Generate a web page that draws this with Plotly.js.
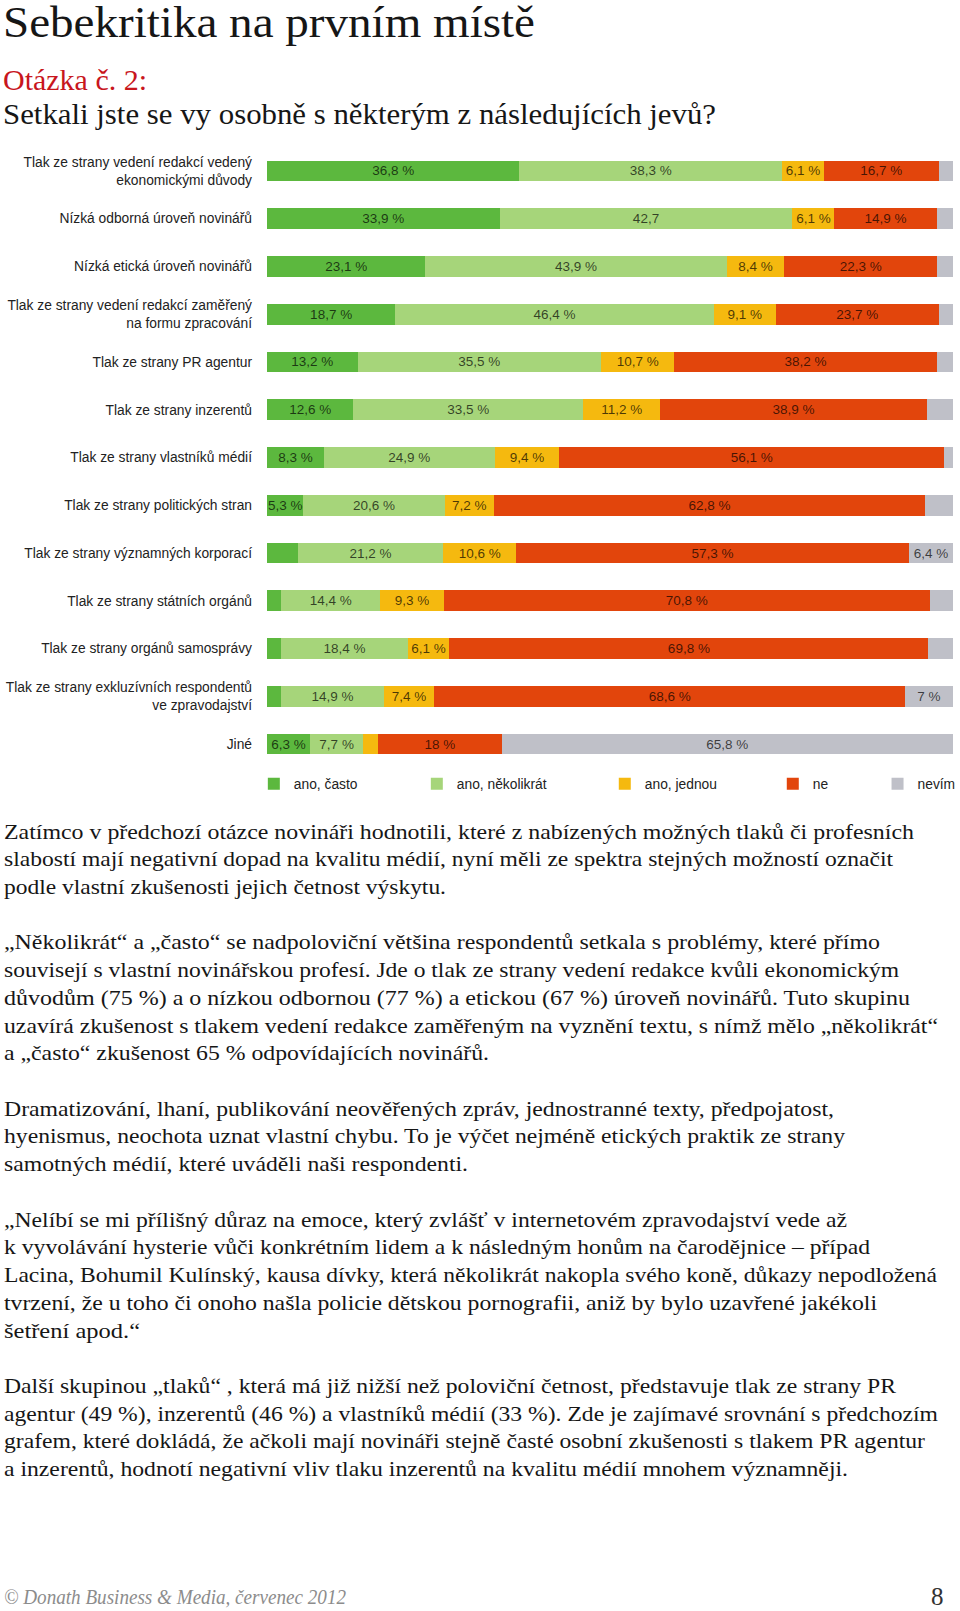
<!DOCTYPE html>
<html lang="cs"><head><meta charset="utf-8">
<script src="https://cdn.plot.ly/plotly-3.0.1.min.js"></script>
<style>
html,body{margin:0;padding:0;background:#fff;}
body{width:960px;height:1611px;position:relative;overflow:hidden;font-family:"Liberation Serif","Times New Roman",serif;color:#161616;}
.ln{position:absolute;white-space:nowrap;transform-origin:0 0;}
#chart{position:absolute;left:0;top:140px;width:960px;height:680px;}
</style></head><body>
<div id="chart"></div>
<script>
// ---------------- chart data ----------------
const categories = [
  "Tlak ze strany vedení redakcí vedený<br>ekonomickými důvody",
  "Nízká odborná úroveň novinářů",
  "Nízká etická úroveň novinářů",
  "Tlak ze strany vedení redakcí zaměřený<br>na formu zpracování",
  "Tlak ze strany PR agentur",
  "Tlak ze strany inzerentů",
  "Tlak ze strany vlastníků médií",
  "Tlak ze strany politických stran",
  "Tlak ze strany významných korporací",
  "Tlak ze strany státních orgánů",
  "Tlak ze strany orgánů samosprávy",
  "Tlak ze strany exkluzívních respondentů<br>ve zpravodajství",
  "Jiné"
];
const seriesNames = ["ano, často", "ano, několikrát", "ano, jednou", "ne", "nevím"];

const anoCasto      = [36.8, 33.9, 23.1, 18.7, 13.2, 12.6, 8.3, 5.3, 4.5, 2.1, 2.1, 2.1, 6.3];
const anoNekolikrat = [38.3, 42.7, 43.9, 46.4, 35.5, 33.5, 24.9, 20.6, 21.2, 14.4, 18.4, 14.9, 7.7];
const anoJednou     = [6.1, 6.1, 8.4, 9.1, 10.7, 11.2, 9.4, 7.2, 10.6, 9.3, 6.1, 7.4, 2.2];
const ne            = [16.7, 14.9, 22.3, 23.7, 38.2, 38.9, 56.1, 62.8, 57.3, 70.8, 69.8, 68.6, 18];
const nevim         = [2.1, 2.4, 2.3, 2.1, 2.4, 3.8, 1.3, 4.1, 6.4, 3.4, 3.6, 7, 65.8];

const lblCasto      = ["36,8 %","33,9 %","23,1 %","18,7 %","13,2 %","12,6 %","8,3 %","5,3 %","","","","","6,3 %"];
const lblNekolikrat = ["38,3 %","42,7","43,9 %","46,4 %","35,5 %","33,5 %","24,9 %","20,6 %","21,2 %","14,4 %","18,4 %","14,9 %","7,7 %"];
const lblJednou     = ["6,1 %","6,1 %","8,4 %","9,1 %","10,7 %","11,2 %","9,4 %","7,2 %","10,6 %","9,3 %","6,1 %","7,4 %",""];
const lblNe         = ["16,7 %","14,9 %","22,3 %","23,7 %","38,2 %","38,9 %","56,1 %","62,8 %","57,3 %","70,8 %","69,8 %","68,6 %","18 %"];
const lblNevim      = ["","","","","","","","","6,4 %","","","7 %","65,8 %"];

// ---------------- page text ----------------
const headLines = [
  {t:"Sebekritika na prvním místě", b:38, r:535, s:44},
  {t:"Otázka č. 2:", b:90, r:147, s:29, c:"#c8161d"},
  {t:"Setkali jste se vy osobně s některým z následujících jevů?", b:124, r:716, s:30}
];
// null = empty line between paragraphs
const bodyLines = [
  ["Zatímco v předchozí otázce novináři hodnotili, které z nabízených možných tlaků či profesních", 914],
  ["slabostí mají negativní dopad na kvalitu médií, nyní měli ze spektra stejných možností označit", 893],
  ["podle vlastní zkušenosti jejich četnost výskytu.", 446],
  null,
  ["„Několikrát“ a „často“ se nadpoloviční většina respondentů setkala s problémy, které přímo", 880],
  ["souvisejí s vlastní novinářskou profesí. Jde o tlak ze strany vedení redakce kvůli ekonomickým", 899],
  ["důvodům (75 %) a o nízkou odbornou (77 %) a etickou (67 %) úroveň novinářů. Tuto skupinu", 910],
  ["uzavírá zkušenost s tlakem vedení redakce zaměřeným na vyznění textu, s nímž mělo „několikrát“", 938],
  ["a „často“ zkušenost 65 % odpovídajících novinářů.", 489],
  null,
  ["Dramatizování, lhaní, publikování neověřených zpráv, jednostranné texty, předpojatost,", 834],
  ["hyenismus, neochota uznat vlastní chybu. To je výčet nejméně etických praktik ze strany", 845],
  ["samotných médií, které uváděli naši respondenti.", 468],
  null,
  ["„Nelíbí se mi přílišný důraz na emoce, který zvlášť v internetovém zpravodajství vede až", 847],
  ["k vyvolávání hysterie vůči konkrétním lidem a k následným honům na čarodějnice – případ", 870],
  ["Lacina, Bohumil Kulínský, kausa dívky, která několikrát nakopla svého koně, důkazy nepodložená", 937],
  ["tvrzení, že u toho či onoho našla policie dětskou pornografii, aniž by bylo uzavřené jakékoli", 877],
  ["šetření apod.“", 140],
  null,
  ["Další skupinou „tlaků“ , která má již nižší než poloviční četnost, představuje tlak ze strany PR", 896],
  ["agentur (49 %), inzerentů (46 %) a vlastníků médií (33 %). Zde je zajímavé srovnání s předchozím", 938],
  ["grafem, které dokládá, že ačkoli mají novináři stejně časté osobní zkušenosti s tlakem PR agentur", 925],
  ["a inzerentů, hodnotí negativní vliv tlaku inzerentů na kvalitu médií mnohem významněji.", 848]
];

function addLine(txt, base, left, right, size, opts) {
  opts = opts || {};
  const d = document.createElement('div');
  d.className = 'ln';
  d.textContent = txt;
  d.style.fontSize = size + 'px';
  d.style.lineHeight = size + 'px';
  d.style.top = (base - 0.8375 * size) + 'px';
  d.style.left = left + 'px';
  if (opts.c) d.style.color = opts.c;
  if (opts.italic) d.style.fontStyle = 'italic';
  document.body.appendChild(d);
  if (right) {
    const w = d.getBoundingClientRect().width;
    d.style.transform = 'scaleX(' + ((right - left) / w).toFixed(4) + ')';
  }
}
headLines.forEach(h => addLine(h.t, h.b, 3, h.r, h.s, {c: h.c}));
bodyLines.forEach((l, i) => { if (l) addLine(l[0], 839 + i * 27.72, 4, l[1], 22); });
addLine("© Donath Business & Media, červenec 2012", 1604, 4, 346, 22, {italic: true, c: "#8c8c8c"});
addLine("8", 1605, 931, null, 25, {c: "#333"});

// ---------------- chart ----------------
const FONT = '"Liberation Sans", Arial, sans-serif';
const barColors = ["#5cb83e", "#a6d57a", "#f5b90f", "#e2450c", "#bfc0c8"];
const values = [anoCasto, anoNekolikrat, anoJednou, ne, nevim];
const labels = [lblCasto, lblNekolikrat, lblJednou, lblNe, lblNevim];
const legendIds = ["legend", "legend2", "legend3", "legend4", "legend5"];
const legendX = [-0.0192, 0.2184, 0.4924, 0.7373, 0.8900];

const traces = values.map((v, k) => ({
  type: 'bar', orientation: 'h', name: seriesNames[k],
  x: v, y: categories, text: labels[k],
  textposition: 'inside', insidetextanchor: 'middle', textangle: 0,
  constraintext: 'none', cliponaxis: false,
  textfont: {family: FONT, size: 13.5, color: 'rgba(0,0,0,0.7)'},
  marker: {color: barColors[k], line: {width: 0}},
  showlegend: true, legend: legendIds[k], hoverinfo: 'skip'
}));

const layout = {
  width: 960, height: 680,
  margin: {l: 267, r: 7, t: 7.4, b: 51.8, autoexpand: false},
  paper_bgcolor: 'rgba(0,0,0,0)', plot_bgcolor: 'rgba(0,0,0,0)',
  barmode: 'stack', bargap: 0.567,
  font: {family: FONT, size: 13.5, color: '#222'},
  xaxis: {range: [0, 100], visible: false, fixedrange: true},
  yaxis: {type: 'category', categoryorder: 'array', categoryarray: categories,
          range: [12.5, -0.5], ticks: '', showgrid: false, zeroline: false, showline: false,
          ticklabelstandoff: 14, fixedrange: true,
          tickfont: {family: FONT, size: 13.8, color: '#222'}}
};
legendIds.forEach((id, k) => {
  layout[id] = {x: legendX[k], y: -0.0255, xanchor: 'left', yanchor: 'middle', orientation: 'h',
    bgcolor: 'rgba(0,0,0,0)', borderwidth: 0, itemclick: false, itemdoubleclick: false,
    font: {family: FONT, size: 13.8, color: '#222'}};
});

Plotly.newPlot('chart', traces, layout, {displayModeBar: false, staticPlot: true});
</script></body></html>
